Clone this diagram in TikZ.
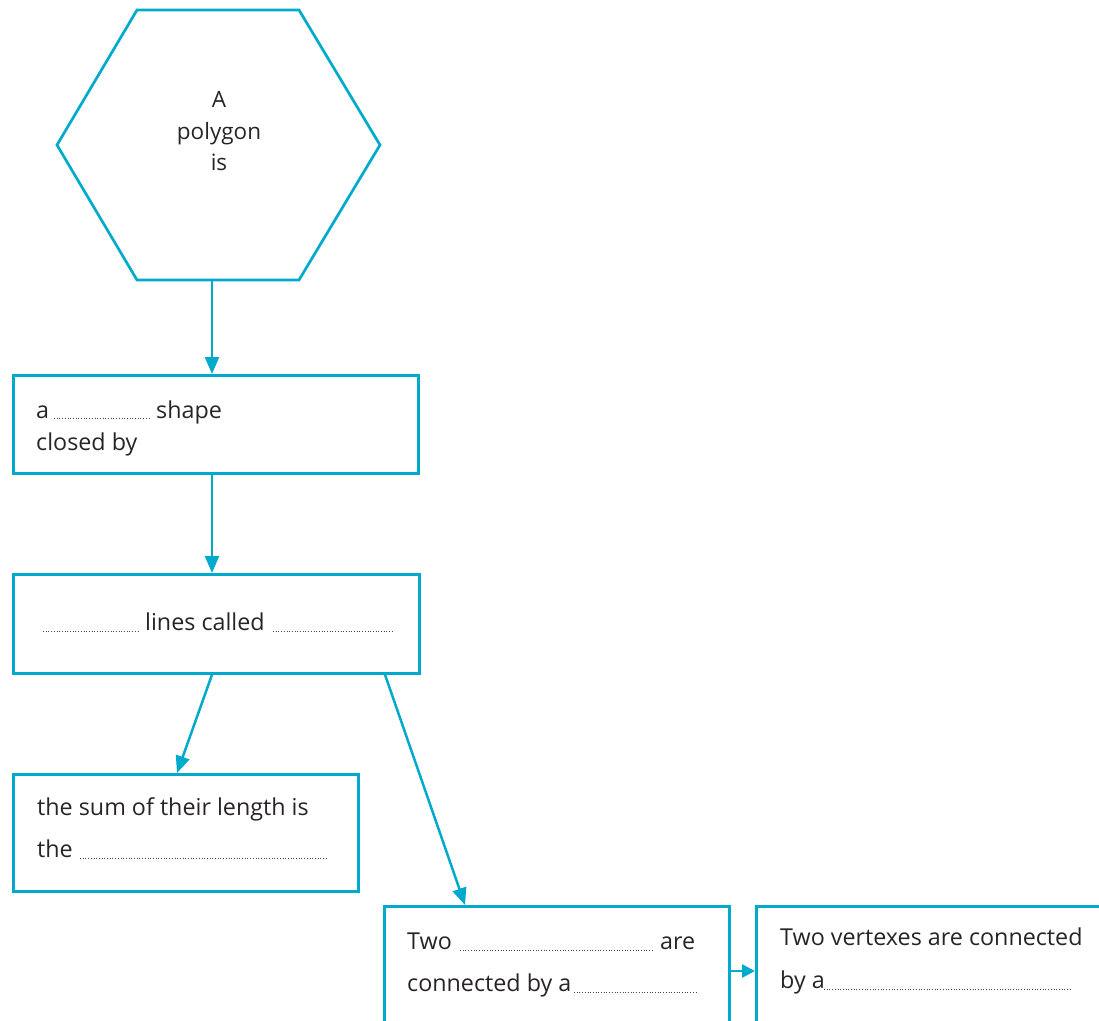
\documentclass[tikz,border=0pt]{standalone}
\usepackage{fontspec}
\setmainfont{Open Sans}
\usetikzlibrary{arrows.meta,calc}
\definecolor{cy}{RGB}{0,170,204}
\definecolor{tx}{RGB}{40,36,37}
\tikzset{
  box/.style={draw=cy, line width=2.7pt, anchor=north west, inner sep=0pt},
  txt/.style={text=tx, inner sep=0pt, anchor=base west, font=\fontsize{23.3}{28}\selectfont},
  htxt/.style={txt, anchor=base, font=\fontsize{22.5}{27}\selectfont},
  blank/.style={draw=tx!85, line width=0.9pt, dash pattern=on 0.8pt off 1.9pt},
  conn/.style={draw=cy, line width=2.5pt, -{Triangle[length=17pt,width=14pt]}},
  connsm/.style={draw=cy, line width=2.5pt, -{Triangle[length=13pt,width=13pt]}}
}
\begin{document}
\begin{tikzpicture}[x=1pt,y=-1pt]
\useasboundingbox (0,0) rectangle (1099,1020);
\clip (0,0) rectangle (1099,1020);
% hexagon
\draw[cy, line width=2.7pt, line join=miter] (137,10) -- (299,10) -- (380,145) -- (299,280) -- (137,280) -- (57,145) -- cycle;
\coordinate (hexb) at (212,280);
\node[htxt] (h1) at (219,107) {A};
\node[htxt] (h2) at (219,139) {polygon};
\node[htxt] (h3) at (219,170) {is};
% boxes
\node[box, minimum width=405pt, minimum height=98pt] (b1) at (12,374) {};
\node[box, minimum width=406pt, minimum height=99pt] (b2) at (12,573) {};
\node[box, minimum width=345pt, minimum height=117pt] (b3) at (12,773) {};
\node[box, minimum width=345pt, minimum height=140pt] (b4) at (383,905) {};
\node[box, minimum width=380pt, minimum height=140pt] (b5) at (755,905) {};
% box 1 text
\node[txt] (t1a) at (36,418) {a};
\draw[blank] (54,418) -- (150,418);
\node[txt] (t1b) at (156,418) {shape};
\node[txt] (t1c) at (36,450) {closed by};
% box 2 text
\draw[blank] (43,631) -- (139,631);
\node[txt] (t2a) at (145,630) {lines called};
\draw[blank] (273,631) -- (392,631);
% box 3 text
\node[txt] (t3a) at (37,815) {the sum of their length is};
\node[txt] (t3b) at (37,857) {the};
\draw[blank] (80,858) -- (326,858);
% box 4 text
\node[txt] (t4a) at (407,949) {Two};
\draw[blank] (460,950) -- (652,950);
\node[txt] (t4b) at (660,949) {are};
\node[txt] (t4c) at (407,991) {connected by a};
\draw[blank] (574,992) -- (698,992);
% box 5 text
\node[txt] (t5a) at (780,945) {Two vertexes are connected};
\node[txt] (t5b) at (780,988) {by a};
\draw[blank] (824,989) -- (1070,989);
% connectors
\draw[conn] (hexb) -- ($(b1.north west)+(200,0)$);
\draw[conn] ($(b1.south west)+(200,0)$) -- ($(b2.north west)+(200,0)$);
\draw[conn] ($(b2.south west)+(200,0)$) -- ($(b3.north west)+(165,0)$);
\draw[conn] ($(b2.south west)+(373,0)$) -- ($(b4.north west)+(82,0)$);
\draw[connsm] ($(b4.north east)+(0,66)$) -- ($(b5.north west)+(0,66)$);
\end{tikzpicture}
\end{document}
